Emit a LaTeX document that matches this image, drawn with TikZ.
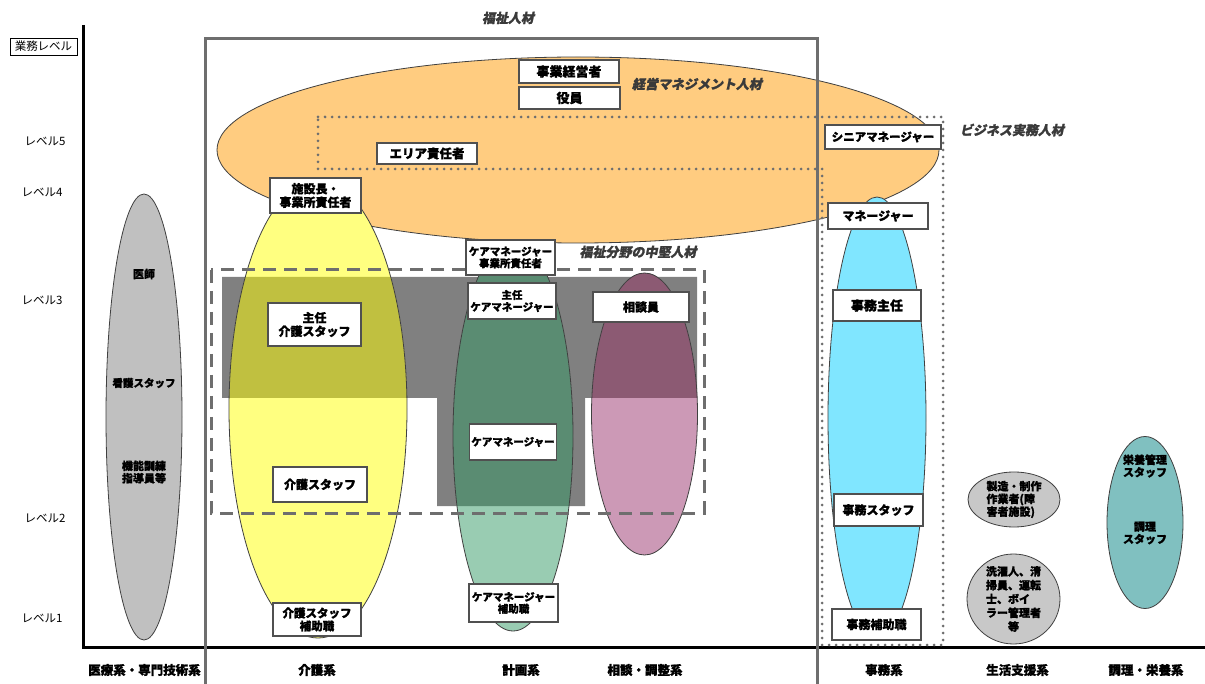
\documentclass[tikz,border=0pt]{standalone}
\usepackage{fontspec}
\setmainfont{Noto Sans CJK JP}[BoldFeatures={FakeBold=1.2}]
\newfontfamily\jpsl{Noto Sans CJK JP}[FakeSlant=0.2,BoldFeatures={FakeBold=1.2}]
\usetikzlibrary{shapes.geometric}
\definecolor{orng}{HTML}{FFCC80}
\definecolor{yl}{HTML}{FFFF80}
\definecolor{yldk}{HTML}{C0C040}
\definecolor{gry}{HTML}{C0C0C0}
\definecolor{grn}{HTML}{99CCB2}
\definecolor{grndk}{HTML}{5A8C72}
\definecolor{pnk}{HTML}{CC99B6}
\definecolor{pnkdk}{HTML}{8C5A73}
\definecolor{blu}{HTML}{80E6FF}
\definecolor{tea}{HTML}{80C0C0}
\definecolor{sgry}{HTML}{C8C8C8}
\definecolor{band}{HTML}{808080}
\definecolor{edge}{HTML}{404040}
\definecolor{boxc}{HTML}{505050}
\definecolor{framec}{HTML}{6E6E6E}
\definecolor{ital}{HTML}{3A3A3A}
\tikzset{
  fsz/.style={font=\bfseries\fontsize{#1}{#1}\linespread{1.13}\selectfont},
  lbl/.style={draw=boxc, line width=1.4pt, fill=white, inner sep=0pt, align=center},
  ell/.style={ellipse, inner sep=0pt, draw=none},
  elline/.style={draw=edge, line width=0.8pt},
  plain/.style={inner sep=0pt, align=center},
  italbl/.style={inner sep=0pt, text=ital, font=\jpsl\bfseries\fontsize{13}{15}\selectfont},
  lvl/.style={inner sep=0pt, font=\fontsize{11.5}{13}\selectfont},
  cat/.style={inner sep=0pt, font=\bfseries\fontsize{12.5}{14}\selectfont},
}
\begin{document}
\begin{tikzpicture}[x=1pt,y=-1pt]
\useasboundingbox (0,0) rectangle (1205,684);
\fill[white] (0,0) rectangle (1205,684);

% orange ellipse
\node[ell, fill=orng, minimum width=722pt, minimum height=186pt] (orange) at (578,150) {};
\draw[elline] (orange.center) ellipse [x radius=361, y radius=93];

% band
\fill[band] (222,277) -- (697,277) -- (697,398) -- (585,398) -- (585,506) -- (437,506) -- (437,398) -- (222,398) -- cycle;

% gray ellipse
\node[ell, fill=gry, minimum width=76pt, minimum height=446pt] (grayell) at (144,417) {};
\draw[elline] (grayell.center) ellipse [x radius=38, y radius=223];

% yellow
\node[ell, fill=yl, minimum width=178pt, minimum height=458pt] (yellow) at (318,409) {};
\begin{scope}
\clip (222,277) -- (697,277) -- (697,398) -- (585,398) -- (585,506) -- (437,506) -- (437,398) -- (222,398) -- cycle;
\fill[yldk] (yellow.center) ellipse [x radius=89, y radius=229];
\end{scope}
\draw[elline] (yellow.center) ellipse [x radius=89, y radius=229];

% green
\node[ell, fill=grn, minimum width=120pt, minimum height=390pt] (green) at (513,436) {};
\begin{scope}
\clip (222,200) -- (697,200) -- (697,398) -- (585,398) -- (585,506) -- (437,506) -- (437,398) -- (222,398) -- cycle;
\fill[grndk] (green.center) ellipse [x radius=60, y radius=195];
\end{scope}
\draw[elline] (green.center) ellipse [x radius=60, y radius=195];

% pink
\node[ell, fill=pnk, minimum width=106pt, minimum height=282pt] (pink) at (644.5,414) {};
\begin{scope}
\clip (222,200) -- (697,200) -- (697,398) -- (222,398) -- cycle;
\fill[pnkdk] (pink.center) ellipse [x radius=53, y radius=141];
\end{scope}
\draw[elline] (pink.center) ellipse [x radius=53, y radius=141];

% blue
\node[ell, fill=blu, minimum width=98pt, minimum height=442pt] (blue) at (877,418) {};
\draw[elline] (blue.center) ellipse [x radius=49, y radius=221];

% teal
\node[ell, fill=tea, minimum width=76pt, minimum height=172pt] (teal) at (1145,522.5) {};
\draw[elline] (teal.center) ellipse [x radius=38, y radius=86];

% small gray ellipses
\node[ell, fill=sgry, minimum width=92pt, minimum height=55pt] (seizo) at (1014,499.5) {};
\draw[elline] (seizo.center) ellipse [x radius=46, y radius=27.5];
\node[ell, fill=sgry, minimum width=93pt, minimum height=90pt] (sentaku) at (1013.5,599) {};
\draw[elline] (sentaku.center) ellipse [x radius=46.5, y radius=45];

% axes
\draw[black, line width=3pt] (83,25) -- (83,647) -- (1205,647);

% welfare frame
\draw[framec, line width=3pt] (205,684) -- (205,39) -- (817,39) -- (817,684);

% business dotted frame
\draw[framec, line width=3pt, line cap=round, dash pattern=on 0pt off 7pt]
  (318,117) -- (943,117) -- (943,645) -- (822,645) -- (822,169) -- (318,169) -- cycle;

% mid-level dashed frame
\draw[framec, line width=3pt, dash pattern=on 13pt off 8pt] (211,270) rectangle (704,513);

% boxes
\node[lbl, fsz=13, minimum width=100pt, minimum height=23pt] (keiei) at (569,71.5) {事業経営者};
\node[lbl, fsz=13, minimum width=101pt, minimum height=22pt] (yakuin) at (569.5,98) {役員};
\node[lbl, fsz=12.5, minimum width=100pt, minimum height=21pt] (area) at (427,153.5) {エリア責任者};
\node[lbl, fsz=11.5, minimum width=116pt, minimum height=24pt] (senior) at (883,137) {シニアマネージャー};
\node[lbl, fsz=12, minimum width=91pt, minimum height=35pt] (shisetsu) at (315.5,195.5) {施設長・\\事業所責任者};
\node[lbl, fsz=12, minimum width=100pt, minimum height=26pt] (manager) at (878,216) {マネージャー};
\node[lbl, fsz=10.5, minimum width=89pt, minimum height=35pt] (cmjigyo) at (510.5,257.5) {ケアマネージャー\\事業所責任者};
\node[lbl, fsz=10.5, minimum width=88pt, minimum height=36pt] (shunincm) at (512,301) {主任\\ケアマネージャー};
\node[lbl, fsz=12, minimum width=96pt, minimum height=30pt] (sodan) at (641,307) {相談員};
\node[lbl, fsz=12, minimum width=93pt, minimum height=43pt] (shuninkaigo) at (314.5,324.5) {主任\\介護スタッフ};
\node[lbl, fsz=13, minimum width=88pt, minimum height=31pt] (jimushunin) at (877,305.5) {事務主任};
\node[lbl, fsz=10.5, minimum width=87pt, minimum height=36pt] (cm) at (513,442) {ケアマネージャー};
\node[lbl, fsz=12, minimum width=94pt, minimum height=35pt] (kaigo) at (320,484.5) {介護スタッフ};
\node[lbl, fsz=12, minimum width=89pt, minimum height=32pt] (jimustaff) at (878.5,510) {事務スタッフ};
\node[lbl, fsz=11.5, minimum width=88pt, minimum height=33pt] (kaigohojo) at (317,619.5) {介護スタッフ\\補助職};
\node[lbl, fsz=10.5, minimum width=89pt, minimum height=38pt] (cmhojo) at (513.5,603) {ケアマネージャー\\補助職};
\node[lbl, fsz=12, minimum width=89pt, minimum height=31pt] (jimuhojo) at (876.5,624.5) {事務補助職};

% texts in ellipses
\node[plain, fsz=11] (ishi) at (144,274) {医師};
\node[plain, fsz=10.5] (kango) at (144,383) {看護スタッフ};
\node[plain, fsz=11] (kino) at (144,472) {機能訓練\\指導員等};
\node[plain, fsz=11] (eiyo) at (1145,466) {栄養管理\\スタッフ};
\node[plain, fsz=11] (chori) at (1145,533) {調理\\スタッフ};
\node[inner sep=0pt, align=left, font=\bfseries\fontsize{11}{12.7}\selectfont] (seizotxt) at (1014,499.5) {製造・制作\\作業者(障\\害者施設)};
\node[inner sep=0pt, align=left, font=\bfseries\fontsize{11}{13.8}\selectfont] (sentakutxt) at (1013.5,599) {洗濯人、清\\掃員、運転\\士、ボイ\\ラー管理者\\\makebox[5em][c]{等}};

% group labels
\node[italbl] (fukushi) at (508,18) {福祉人材};
\node[italbl] (keieilbl) at (697,84) {経営マネジメント人材};
\node[italbl] (bizlbl) at (1012,130) {ビジネス実務人材};
\node[italbl] (chukenlbl) at (638,252) {福祉分野の中堅人材};

% level labels
\node[draw=black, line width=0.8pt, fill=white, inner sep=0pt, minimum width=67pt, minimum height=17pt, font=\fontsize{11.5}{13}\selectfont] (gyomu) at (43.5,46.5) {業務レベル};
\node[lvl] (lv5) at (45,141) {レベル5};
\node[lvl] (lv4) at (42,192) {レベル4};
\node[lvl] (lv3) at (42,300) {レベル3};
\node[lvl] (lv2) at (45,518) {レベル2};
\node[lvl] (lv1) at (42,618) {レベル1};

% category labels
\node[cat] (c1) at (144.5,670) {医療系・専門技術系};
\node[cat] (c2) at (317,670) {介護系};
\node[cat] (c3) at (521,670) {計画系};
\node[cat] (c4) at (645,670) {相談・調整系};
\node[cat] (c5) at (884,670) {事務系};
\node[cat] (c6) at (1017.5,670) {生活支援系};
\node[cat] (c7) at (1146,670) {調理・栄養系};
\end{tikzpicture}
\end{document}
